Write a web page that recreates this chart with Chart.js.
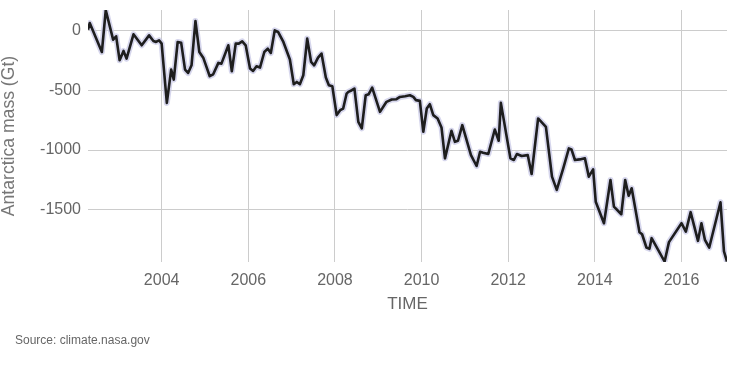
<!DOCTYPE html>
<html><head><meta charset="utf-8">
<script src="https://cdn.jsdelivr.net/npm/chart.js@4"></script>
<style>
html,body{margin:0;padding:0;background:#fff;}
#wrap{position:relative;width:737px;height:365px;}
#source{position:absolute;left:15px;top:333px;font:12px "Liberation Sans",Arial,sans-serif;color:#666;line-height:14px;}
</style></head><body>
<div id="wrap"><canvas id="c" width="737" height="365"></canvas><div id="source">Source: climate.nasa.gov</div></div>
<script>
const years = [
  2002.30, 2002.34, 2002.62, 2002.71, 2002.88, 2002.95, 2003.03, 2003.12, 2003.19, 2003.35,
  2003.54, 2003.71, 2003.81, 2003.87, 2003.94, 2004.00, 2004.12, 2004.22, 2004.28, 2004.37,
  2004.45, 2004.54, 2004.61, 2004.69, 2004.78, 2004.87, 2004.96, 2005.11, 2005.19, 2005.31,
  2005.38, 2005.54, 2005.62, 2005.71, 2005.78, 2005.86, 2005.94, 2006.04, 2006.11, 2006.19,
  2006.27, 2006.37, 2006.45, 2006.52, 2006.61, 2006.69, 2006.81, 2006.96, 2007.05, 2007.12,
  2007.19, 2007.27, 2007.36, 2007.45, 2007.52, 2007.61, 2007.69, 2007.79, 2007.86, 2007.94,
  2008.04, 2008.12, 2008.19, 2008.27, 2008.31, 2008.39, 2008.45, 2008.54, 2008.62, 2008.71,
  2008.78, 2008.86, 2009.04, 2009.19, 2009.31, 2009.42, 2009.50, 2009.62, 2009.73, 2009.81,
  2009.87, 2009.96, 2010.04, 2010.12, 2010.19, 2010.27, 2010.37, 2010.46, 2010.54, 2010.69,
  2010.77, 2010.84, 2010.94, 2011.14, 2011.27, 2011.35, 2011.42, 2011.54, 2011.69, 2011.78,
  2011.83, 2012.05, 2012.13, 2012.20, 2012.31, 2012.45, 2012.54, 2012.69, 2012.87, 2013.01,
  2013.12, 2013.27, 2013.40, 2013.46, 2013.54, 2013.65, 2013.77, 2013.86, 2013.96, 2014.02,
  2014.21, 2014.36, 2014.44, 2014.61, 2014.70, 2014.78, 2014.85, 2015.03, 2015.09, 2015.19,
  2015.26, 2015.31, 2015.61, 2015.71, 2016.00, 2016.10, 2016.21, 2016.38, 2016.46, 2016.54,
  2016.64, 2016.90, 2016.98, 2017.05
];
const massGt = [
  6, 61, -181, 168, -78, -50, -250, -172, -236, -33,
  -125, -42, -89, -97, -83, -111, -606, -328, -411, -97,
  -103, -328, -356, -292, 78, -181, -228, -383, -367, -272,
  -278, -125, -342, -111, -111, -92, -125, -319, -339, -300,
  -311, -181, -153, -189, 0, -14, -97, -244, -450, -431,
  -450, -375, -69, -264, -292, -228, -194, -394, -458, -467,
  -708, -667, -653, -528, -514, -500, -486, -764, -819, -542,
  -533, -478, -681, -597, -578, -575, -556, -550, -542, -556,
  -583, -589, -847, -653, -617, -708, -736, -811, -1069, -839,
  -931, -922, -792, -1042, -1133, -1014, -1022, -1033, -828, -922,
  -606, -1069, -1083, -1033, -1050, -1042, -1200, -736, -806, -1222,
  -1333, -1153, -986, -994, -1083, -1078, -1069, -1222, -1161, -1431,
  -1611, -1250, -1472, -1536, -1250, -1381, -1319, -1686, -1703, -1814,
  -1825, -1736, -1931, -1769, -1611, -1681, -1519, -1758, -1611, -1750,
  -1814, -1436, -1847, -1931
];
const xTickValues = [2004, 2006, 2008, 2010, 2012, 2014, 2016];
const yTickValues = [0, -500, -1000, -1500];

const points = years.map((x, i) => ({x: x, y: massGt[i]}));
const FONT = '"Liberation Sans", Arial, sans-serif';

new Chart(document.getElementById('c'), {
  type: 'line',
  data: {
    datasets: [
      {data: points, borderColor: '#1e1e1e', borderWidth: 2.6, pointRadius: 0, tension: 0, borderJoinStyle: 'round', order: 1},
      {data: points, borderColor: 'rgba(200,200,230,0.75)', borderWidth: 6, pointRadius: 0, tension: 0, borderJoinStyle: 'round', order: 2}
    ]
  },
  options: {
    responsive: false,
    animation: false,
    devicePixelRatio: 1,
    layout: {padding: {left: 0, right: 10, top: 10, bottom: 0}},
    plugins: {legend: {display: false}, tooltip: {enabled: false}},
    scales: {
      x: {
        type: 'linear', min: 2002.30, max: 2017.05,
        afterBuildTicks: s => { s.ticks = xTickValues.map(v => ({value: v})); },
        afterFit: s => { s.height = 103; s.paddingLeft = 0; s.paddingRight = 0; s.paddingTop = 0; s.paddingBottom = 0; },
        grid: {color: '#cccccc', lineWidth: 1, drawTicks: false},
        border: {display: false},
        ticks: {padding: 9, color: '#666', font: {family: FONT, size: 16}, callback: v => String(v), maxRotation: 0},
        title: {display: true, text: 'TIME', color: '#666', font: {family: FONT, size: 17}, padding: {top: 0, bottom: 50}}
      },
      y: {
        min: -1935, max: 170,
        afterBuildTicks: s => { s.ticks = yTickValues.map(v => ({value: v})); },
        afterFit: s => { s.width = 88; s.paddingTop = 0; s.paddingBottom = 0; s.paddingLeft = 0; s.paddingRight = 0; },
        grid: {color: '#cccccc', lineWidth: 1, drawTicks: false},
        border: {display: false},
        ticks: {padding: 7, color: '#666', font: {family: FONT, size: 16}, callback: v => String(v)},
        title: {display: true, text: 'Antarctica mass (Gt)', color: '#777', font: {family: FONT, size: 17.6, lineHeight: 1}, padding: 0}
      }
    }
  }
});
</script>
</body></html>
